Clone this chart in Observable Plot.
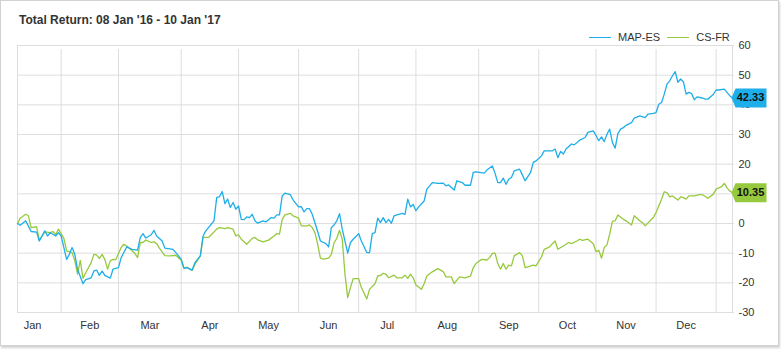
<!DOCTYPE html>
<html>
<head>
<meta charset="utf-8">
<script src="https://cdn.jsdelivr.net/npm/d3@7"></script>
<script src="https://cdn.jsdelivr.net/npm/@observablehq/plot@0.6"></script>
<style>
  html, body { margin: 0; padding: 0; background: #fff; }
  body { width: 781px; height: 350px; position: relative; overflow: hidden; font-family: "Liberation Sans", Arial, sans-serif; }
  #box { position: absolute; left: 0; top: 0; width: 777px; height: 344px; border: 1px solid #d2d2d2; box-shadow: 1px 2px 2px rgba(0,0,0,0.18); background: #fff; }
  #chart { position: absolute; left: 0; top: 0; }
  #title { position: absolute; left: 19px; top: 13px; font-size: 12px; line-height: 14px; font-weight: bold; color: #333; white-space: nowrap; }
  #legend { position: absolute; top: 31px; left: 589px; font-size: 11px; line-height: 13px; color: #333; white-space: nowrap; }
  #legend .sw { display: inline-block; width: 22px; height: 0; border-top: 1.4px solid; vertical-align: middle; margin-right: 7px; position: relative; top: -1px; }
  #legend .item { display: inline-block; margin-right: 7px; }
</style>
</head>
<body>
<div id="box"></div>
<div id="chart"></div>
<div id="title">Total Return: 08 Jan '16 - 10 Jan '17</div>
<div id="legend"></div>
<script>
// ---- data ----
const SERIES = ["MAP-ES", "CS-FR"];
const COLORS = ["#1eaee9", "#96c93d"];
const MONTHS = ["Jan","Feb","Mar","Apr","May","Jun","Jul","Aug","Sep","Oct","Nov","Dec"];
const Y_TICKS = [-30,-20,-10,0,10,20,30,40,50,60];
// trading-day number (weekdays counted from 08 Jan 2016)
const esDay = [0,1,3,5,7,8,10,11,12,14,15,16,18,19,20,21,22,24,25,27,28,29,30,31,32,34,35,37,38,40,42,44,45,46,47,49,50,51,53,54,57,59,60,61,62,64,65,67,68,69,71,72,73,74,75,76,77,78,79,80,81,82,83,84,85,86,87,88,90,91,93,94,95,96,97,98,100,101,103,104,105,106,107,108,110,111,113,114,115,116,117,118,119,121,122,123,125,126,128,129,130,131,132,133,134,135,136,137,138,139,141,142,143,144,145,146,147,149,150,152,154,156,157,158,160,161,163,164,166,167,168,171,172,174,175,176,177,178,179,180,181,182,184,185,186,188,189,190,192,193,194,196,197,198,199,200,201,203,204,206,208,209,211,212,213,214,215,216,217,218,219,220,221,222,223,225,226,228,230,231,233,234,235,236,237,238,239,240,241,242,243,244,245,246,247,248,249,251,252,253,255,256,257,259,260,261,262];
const esVal = [0,-0.6,0.9,-2.7,-2.9,-5.9,-2.5,-4.2,-3.1,-4.2,-3.1,-4.2,-12.1,-10.4,-8.1,-10.4,-15.4,-20.3,-18.9,-18.3,-16.0,-15.7,-17.5,-16.0,-17.5,-18.4,-15.4,-14.9,-11.5,-7.9,-8.7,-9.0,-4.7,-3.4,-4.9,-3.8,-2.3,-4.2,-5.9,-8.3,-8.7,-10.9,-12.1,-15.1,-14.9,-15.7,-13.2,-10.9,-4.2,-2.5,-0.2,0.9,8.8,9.0,10.8,6.7,8.2,5.4,7.1,4.8,5.9,1.4,1.3,2.2,2.0,3.1,0.9,0.1,0.9,0.5,2.0,1.8,2.9,2.9,9.3,10.2,9.7,7.9,5.6,5.7,3.9,5.0,5.0,3.1,-2.7,-5.9,-6.8,-7.9,-1.4,-0.5,0.9,3.3,-1.9,-10.0,-6.4,-5.3,-3.4,-5.9,-9.8,-9.8,-3.4,-3.1,1.8,0.3,2.0,0.3,1.4,0.1,2.6,2.9,3.4,3.1,8.2,5.6,6.4,4.3,5.6,7.6,11.6,13.8,13.5,13.6,12.7,13.0,11.3,14.4,13.8,12.9,12.9,17.2,17.4,17.0,18.0,19.4,16.9,13.8,13.8,15.3,13.2,14.9,15.5,17.7,18.3,16.4,14.4,17.2,20.6,21.1,22.8,24.5,24.5,24.5,25.1,22.2,24.3,23.4,25.1,26.8,26.5,28.1,29.0,30.7,31.2,29.6,27.9,29.2,27.6,30.1,31.8,27.3,25.4,30.3,31.8,32.3,33.1,34.0,35.5,36.3,35.7,36.9,37.1,37.4,40.2,40.8,43.6,47.0,48.1,49.8,51.2,47.6,48.7,47.8,43.6,44.2,43.8,41.7,42.7,42.3,41.9,41.9,43.6,45.0,45.0,45.3,44.2,43.1,42.33];
const frDay = [0,1,3,4,5,7,8,10,12,13,14,15,17,18,20,21,22,23,24,25,27,28,29,30,31,32,33,34,35,36,38,39,40,42,43,44,45,46,47,49,50,51,52,54,56,58,60,61,62,64,65,67,68,70,71,73,74,76,77,79,80,81,82,84,86,87,88,90,92,94,95,96,97,98,100,101,103,104,106,107,108,109,110,111,112,114,115,116,117,118,119,120,121,122,123,125,126,128,129,131,132,133,134,135,136,138,139,141,142,143,144,145,146,148,149,150,152,154,156,157,159,160,161,162,164,166,167,168,170,172,173,174,175,176,177,178,179,180,181,182,184,185,186,187,189,190,192,193,195,196,197,198,200,202,203,205,206,207,209,211,212,213,214,215,216,217,218,219,220,222,223,225,226,228,229,230,232,233,234,236,237,238,239,240,242,243,244,245,246,248,250,251,253,255,256,258,259,260,261,262];
const frVal = [0,1.8,3.1,2.6,-1.4,-1.1,-5.6,-2.8,-3.1,-2.7,-3.8,-1.9,-5.0,-9.2,-9.8,-12.6,-17.1,-12.4,-18.4,-16.6,-13.2,-10.4,-10.6,-11.8,-10.4,-12.1,-15.4,-12.6,-12.1,-12.2,-8.1,-7.0,-7.6,-9.2,-10.1,-11.5,-6.4,-6.4,-5.6,-6.4,-6.2,-6.8,-8.3,-10.8,-10.9,-10.7,-12.4,-15.1,-14.7,-15.8,-13.8,-10.9,-4.7,-4.7,-3.8,-1.9,-1.4,-1.7,-1.4,-1.9,-4.2,-3.8,-5.3,-7.0,-5.0,-4.7,-5.5,-6.2,-5.6,-4.2,-3.4,-3.6,1.4,2.9,3.4,2.6,1.8,-0.8,-0.8,-0.5,-1.4,-3.1,-7.0,-11.7,-12.0,-11.7,-10.4,-6.5,-5.0,-2.3,-5.3,-17.1,-25.0,-21.6,-18.6,-18.6,-21.6,-25.4,-22.2,-20.3,-17.7,-17.5,-16.8,-17.1,-18.3,-17.4,-18.3,-18.3,-17.4,-18.5,-17.1,-18.3,-20.7,-22.2,-20.3,-17.7,-16.3,-15.2,-16.2,-18.0,-18.0,-20.3,-19.1,-18.0,-18.3,-17.7,-14.9,-13.5,-12.1,-12.3,-11.5,-10.1,-10.0,-13.5,-15.4,-13.5,-15.4,-14.0,-14.3,-10.9,-9.8,-10.9,-14.9,-14.6,-14.0,-14.3,-11.3,-8.7,-7.9,-6.8,-5.9,-8.7,-7.6,-6.4,-6.8,-5.9,-5.3,-5.7,-5.3,-6.8,-9.5,-9.0,-11.7,-8.1,-7.2,-3.6,0.7,0.9,2.9,1.4,0.9,-0.5,2.6,0.9,0.3,-0.8,1.1,2.0,3.7,8.2,10.7,10.4,9.0,9.3,7.9,9.0,8.7,8.2,9.3,9.3,9.7,9.7,8.5,9.9,11.6,12.4,13.5,12.0,11.0,10.35];

// ---- trading-day calendar (weekdays only) ----
const START = Date.UTC(2016, 0, 8);
const DAY = 864e5;
function tradingIndex(t) {
  let n = 0;
  if (t >= START) { for (let d = START; d < t; d += DAY) { const w = new Date(d).getUTCDay(); if (w !== 0 && w !== 6) n++; } }
  else { for (let d = t; d < START; d += DAY) { const w = new Date(d).getUTCDay(); if (w !== 0 && w !== 6) n--; } }
  return n;
}
const LAST = esDay[esDay.length - 1];
const monthStart = d3.range(0, 14).map(m => tradingIndex(Date.UTC(2016, m, 1)));
const monthLabels = MONTHS.map((name, m) => ({name, at: (monthStart[m] + monthStart[m + 1]) / 2}));
const gridX = monthStart.slice(1, 13);

const es = esDay.map((d, i) => ({day: d, value: esVal[i]}));
const fr = frDay.map((d, i) => ({day: d, value: frVal[i]}));
const ends = [
  {day: LAST, value: esVal[esVal.length - 1], color: COLORS[0]},
  {day: LAST, value: frVal[frVal.length - 1], color: COLORS[1]}
];
const flag = { draw(ctx) { ctx.moveTo(-1, 0); ctx.lineTo(3, -9.5); ctx.lineTo(34, -9.5); ctx.lineTo(34, 9.5); ctx.lineTo(3, 9.5); ctx.closePath(); } };

const GRID = "#dedede";
const FONT = '"Liberation Sans", Arial, sans-serif';

const plot = Plot.plot({
  width: 781, height: 350,
  marginLeft: 17, marginRight: 49, marginTop: 45, marginBottom: 38,
  x: {domain: [0, LAST], axis: null},
  y: {domain: [Y_TICKS[0], Y_TICKS[Y_TICKS.length - 1]], axis: null},
  style: {background: "transparent", fontFamily: FONT, overflow: "visible"},
  marks: [
    Plot.ruleY(Y_TICKS, {stroke: GRID, strokeWidth: 1, insetRight: -2}),
    Plot.ruleX([0, LAST], {y1: Y_TICKS[0], y2: Y_TICKS[Y_TICKS.length - 1], stroke: GRID}),
    Plot.ruleX(gridX, {y1: Y_TICKS[0], y2: Y_TICKS[Y_TICKS.length - 1], stroke: GRID, insetBottom: -4}),
    Plot.text(monthLabels, {x: "at", y: () => Y_TICKS[0], text: "name", dy: 13, fontSize: 11, fill: "#333"}),
    Plot.text(Y_TICKS, {x: () => LAST, y: d => d, text: d => String(d), dx: 6, textAnchor: "start", fontSize: 11, fill: "#333"}),
    Plot.line(fr, {x: "day", y: "value", stroke: COLORS[1], strokeWidth: 1.3}),
    Plot.line(es, {x: "day", y: "value", stroke: COLORS[0], strokeWidth: 1.3}),
    Plot.dot(ends, {x: "day", y: "value", symbol: flag, fill: "color", stroke: null}),
    Plot.text(ends, {x: "day", y: "value", text: d => d.value.toFixed(2), dx: 18, fontSize: 11, fontWeight: "bold", fill: "#111"})
  ]
});
document.getElementById("chart").appendChild(plot);

const legend = document.getElementById("legend");
SERIES.forEach((s, i) => {
  const item = document.createElement("span");
  item.className = "item";
  item.innerHTML = `<span class="sw" style="border-color:${COLORS[i]}"></span>${s}`;
  legend.appendChild(item);
});
</script>
</body>
</html>
